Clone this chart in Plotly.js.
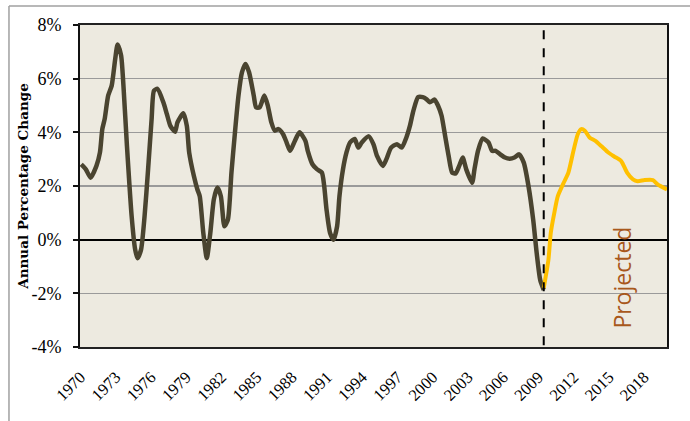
<!DOCTYPE html>
<html>
<head>
<meta charset="utf-8">
<script src="https://cdn.plot.ly/plotly-3.0.1.min.js"></script>
<style>html,body{margin:0;padding:0;background:#fff;}#chart{width:690px;height:421px;}</style>
</head>
<body>
<div id="chart"></div>
<script>
// Historical series (year, annual % change)
const histYears = [1970.1,1970.5,1970.9,1971.4,1971.7,1971.9,1972.1,1972.4,1972.7,1973.0,1973.2,1973.5,1973.7,1974.0,1974.4,1974.7,1974.9,1975.2,1975.5,1975.8,1976.1,1976.3,1976.6,1977.1,1977.4,1977.7,1978.1,1978.3,1978.8,1979.1,1979.3,1979.7,1980.0,1980.2,1980.5,1980.8,1981.1,1981.4,1981.7,1982.0,1982.3,1982.6,1982.9,1983.2,1983.5,1983.8,1984.1,1984.4,1984.8,1985.0,1985.3,1985.7,1986.0,1986.3,1986.6,1986.9,1987.3,1987.6,1987.9,1988.3,1988.7,1989.2,1989.4,1989.8,1990.2,1990.6,1990.8,1991.0,1991.3,1991.6,1991.9,1992.1,1992.4,1992.7,1993.0,1993.4,1993.7,1994.0,1994.6,1995.0,1995.3,1995.8,1996.1,1996.5,1997.0,1997.4,1997.8,1998.1,1998.4,1998.8,1999.2,1999.5,1999.8,2000.2,2000.5,2000.8,2001.1,2001.4,2001.7,2002.0,2002.3,2002.6,2002.9,2003.4,2003.6,2003.9,2004.3,2004.8,2005.1,2005.4,2005.8,2006.2,2006.6,2007.0,2007.4,2007.8,2008.2,2008.6,2008.9,2009.2,2009.5];
const histValues = [2.81,2.62,2.31,2.75,3.25,4.12,4.49,5.37,5.74,6.74,7.27,6.87,5.74,3.49,0.87,-0.37,-0.69,-0.37,0.87,2.62,4.49,5.55,5.62,5.12,4.68,4.24,4.02,4.37,4.71,4.24,3.25,2.37,1.87,1.62,0.26,-0.69,0.25,1.50,1.94,1.62,0.50,0.75,2.50,4.00,5.37,6.24,6.55,6.24,5.37,4.93,4.93,5.37,4.99,4.37,4.06,4.12,3.93,3.62,3.31,3.68,4.00,3.68,3.31,2.81,2.62,2.50,2.00,1.12,0.25,0.00,0.50,1.62,2.62,3.25,3.62,3.75,3.43,3.62,3.85,3.55,3.12,2.75,3.00,3.43,3.56,3.43,3.81,4.24,4.81,5.31,5.31,5.24,5.12,5.22,4.99,4.62,3.87,3.12,2.50,2.47,2.75,3.06,2.62,2.12,2.62,3.31,3.77,3.62,3.31,3.31,3.18,3.06,3.02,3.06,3.18,2.87,2.00,0.75,-0.50,-1.50,-1.87];
// Projected series
const projYears = [2009.5,2009.9,2010.1,2010.4,2010.7,2011.2,2011.6,2012.0,2012.4,2012.7,2013.0,2013.4,2013.9,2014.4,2015.0,2015.5,2016.1,2016.6,2017.1,2017.5,2018.1,2018.8,2019.2,2020.0];
const projValues = [-1.80,-0.75,0.25,1.00,1.62,2.12,2.50,3.25,3.93,4.12,4.06,3.81,3.68,3.49,3.25,3.10,2.93,2.50,2.25,2.18,2.22,2.22,2.06,1.87];
// Axis labels
const tickYears = [1970,1973,1976,1979,1982,1985,1988,1991,1994,1997,2000,2003,2006,2009,2012,2015,2018];
const yTicks = [-4,-2,0,2,4,6,8];
const projectionStart = 2009.5;
const projLabel = "Projected";
const yTitle = "Annual Percentage Change";

const traces = [
  {x: histYears, y: histValues, type: 'scatter', mode: 'lines',
   line: {color: '#4A4430', width: 4.5, shape: 'spline', smoothing: 0.6}, hoverinfo: 'skip'},
  {x: projYears, y: projValues, type: 'scatter', mode: 'lines',
   line: {color: '#FFC000', width: 4, shape: 'spline', smoothing: 0.6}, hoverinfo: 'skip'}
];

const layout = {
  width: 690, height: 421,
  margin: {l: 80, r: 23, t: 25, b: 74},
  paper_bgcolor: '#ffffff',
  plot_bgcolor: '#EDEAE0',
  showlegend: false,
  xaxis: {
    range: [1970, 2020],
    tickvals: tickYears.map(y => y + 0.05),
    ticktext: tickYears.map(String),
    tickangle: -45,
    ticks: '',
    ticklabelstandoff: 12,
    tickfont: {family: 'Liberation Serif, serif', size: 16.5, color: '#000'},
    showgrid: false, zeroline: false,
    showline: true, mirror: true, linecolor: '#222', linewidth: 2
  },
  yaxis: {
    range: [-4, 8],
    tickvals: yTicks,
    ticktext: yTicks.map(v => v + '%'),
    ticks: 'outside', ticklen: 5, tickwidth: 2, tickcolor: '#111',
    ticklabelstandoff: 8,
    tickfont: {family: 'Liberation Serif, serif', size: 18, color: '#000'},
    showgrid: true, gridcolor: '#9A9A9A', gridwidth: 1.5,
    zeroline: true, zerolinecolor: '#000', zerolinewidth: 2,
    showline: true, mirror: true, linecolor: '#111', linewidth: 2,
    title: {text: '<b>' + yTitle + '</b>', standoff: 0,
            font: {family: 'DejaVu Serif, serif', size: 13.5, color: '#000'}}
  },
  shapes: [
    {type: 'line', xref: 'x', yref: 'y', x0: projectionStart, x1: projectionStart, y0: 7.8, y1: -4,
     line: {color: '#000', width: 2, dash: 'dash'}},
    {type: 'line', xref: 'paper', yref: 'paper', x0: -0.121, x1: -0.121, y0: 1.059, y1: -0.25,
     line: {color: '#A0A0A0', width: 1.5}},
    {type: 'line', xref: 'paper', yref: 'paper', x0: -0.121, x1: 1.1, y0: 1.059, y1: 1.059,
     line: {color: '#A0A0A0', width: 1.5}}
  ],
  annotations: [
    {x: 2016.2, y: -1.4, xref: 'x', yref: 'y', text: projLabel, textangle: -90,
     showarrow: false, font: {family: 'Open Sans, sans-serif', size: 23, color: '#A8581C'}}
  ]
};

Plotly.newPlot('chart', traces, layout, {displayModeBar: false, staticPlot: true});
</script>
</body>
</html>
